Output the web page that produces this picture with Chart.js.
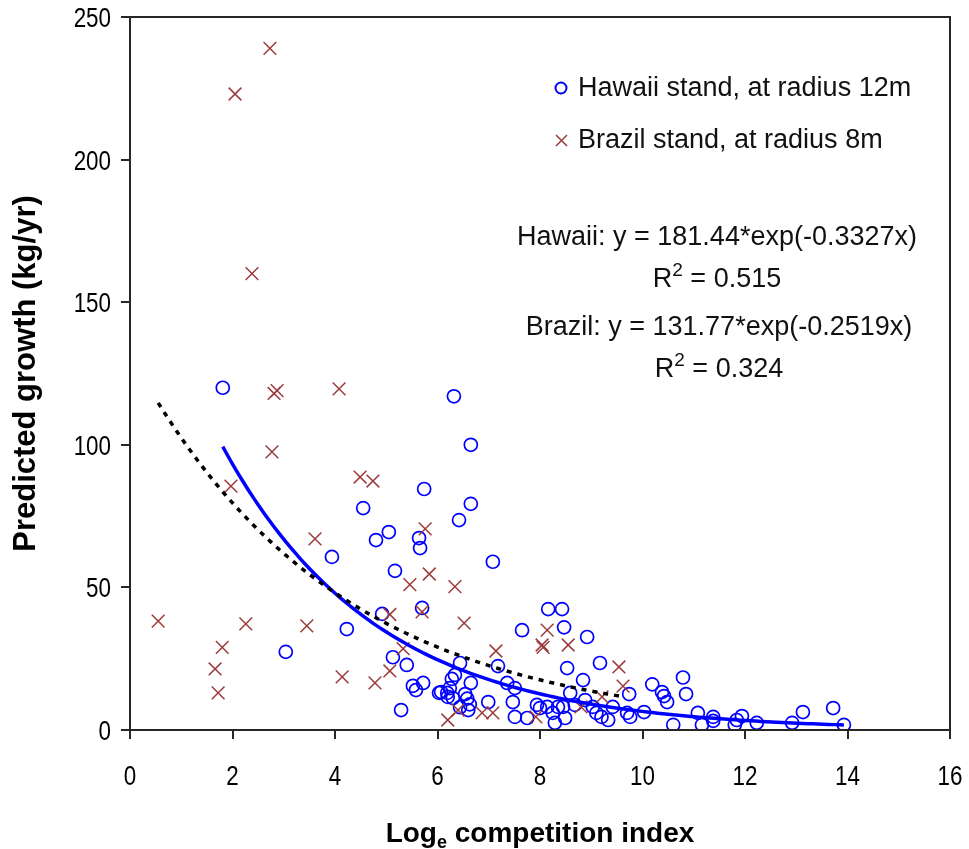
<!DOCTYPE html>
<html>
<head>
<meta charset="utf-8">
<script src="https://cdn.jsdelivr.net/npm/chart.js@4.4.1/dist/chart.umd.min.js"></script>
<style>
  html, body { margin: 0; padding: 0; background: #ffffff; }
  canvas { display: block; }
</style>
</head>
<body>
<canvas id="growth" width="969" height="849"></canvas>
<script>
// Hawaii stand (radius 12 m): log competition index vs predicted growth
const hawaiiX = [1.81, 3.04, 3.94, 4.23, 4.55, 4.80, 4.92, 5.05, 5.13, 5.17, 5.29, 5.40, 5.52, 5.58, 5.64, 5.66, 5.70, 5.72, 5.74,
  6.03, 6.07, 6.19, 6.20, 6.24, 6.28, 6.30, 6.32, 6.34, 6.42, 6.44, 6.44, 6.54, 6.58, 6.60, 6.63, 6.65, 6.65, 6.65, 6.99, 7.08, 7.18,
  7.36, 7.47, 7.51, 7.51, 7.65, 7.75, 7.94, 8.00, 8.14, 8.16, 8.25, 8.29, 8.35, 8.43, 8.45, 8.47, 8.49, 8.53, 8.59, 8.68, 8.84, 8.88,
  8.92, 9.03, 9.10, 9.17, 9.20, 9.33, 9.42, 9.70, 9.74, 9.76, 10.03, 10.19, 10.38, 10.42, 10.48, 10.60, 10.79, 10.85, 11.08, 11.16,
  11.38, 11.38, 11.80, 11.84, 11.94, 12.23, 12.92, 13.13, 13.72, 13.93];
const hawaiiY = [120, 27.4, 60.7, 35.4, 77.8, 66.6, 40.7, 69.4, 25.5, 55.8, 7.0, 22.8, 15.5, 14.0, 67.3, 63.8, 42.8, 16.5, 84.5,
  13.0, 13.3, 13.0, 11.6, 14.7, 17.9, 11.2, 117, 19.3, 73.6, 23.5, 8.0, 12.6, 11.0, 7.0, 9.0, 100, 79.3, 16.5, 9.8, 59.0, 22.4,
  16.5, 9.8, 4.6, 14.7, 35.0, 4.2, 8.8, 7.7, 8.1, 42.4, 6.0, 2.5, 8.1, 42.4, 8.1, 36.0, 4.2, 21.7, 13.0, 8.8, 17.5, 10.5,
  32.6, 8.1, 6.0, 23.5, 4.6, 3.5, 8.1, 6.0, 12.6, 4.6, 6.3, 16.0, 13.3, 11.9, 9.8, 1.8, 18.4, 12.6, 6.0, 1.8,
  4.6, 3.2, 1.8, 3.5, 4.9, 2.5, 2.5, 6.3, 7.7, 1.8];

// Brazil stand (radius 8 m)
const brazilX = [0.55, 1.66, 1.72, 1.80, 1.97, 2.05, 2.26, 2.38, 2.73, 2.77, 2.81, 2.87, 3.45, 3.61, 4.08, 4.14, 4.49, 4.74, 4.78,
  5.07, 5.07, 5.33, 5.46, 5.70, 5.76, 5.84, 6.20, 6.34, 6.40, 6.52, 6.87, 7.08, 7.14, 7.92, 8.04, 8.06, 8.14, 8.55, 8.80, 9.21, 9.54, 9.62];
const brazilY = [38.2, 21.4, 13.0, 29.0, 85.5, 223, 37.2, 160, 239, 97.5, 118, 119, 36.5, 67.0, 119.6, 18.6, 88.7, 87.3, 16.5,
  40.5, 20.7, 28.5, 51.0, 41.4, 70.5, 54.7, 3.5, 50.3, 7.0, 37.5, 6.0, 6.0, 27.7, 4.6, 29.8, 29.0, 35.0, 29.8, 8.1, 11.6, 22.1, 15.4];

// Fitted exponential trends y = a * exp(b * x)
const hawaiiFit = { a: 181.44, b: -0.3327, r2: 0.515 };
const brazilFit = { a: 131.77, b: -0.2519, r2: 0.324 };

const xTickValues = [0, 2, 4, 6, 8, 10, 12, 14, 16];
const yTickValues = [0, 50, 100, 150, 200, 250];

const legendLabels = ['Hawaii stand, at radius 12m', 'Brazil stand, at radius 8m'];
const xTitle = { main: 'Log', sub: 'e', rest: ' competition index' };
const yTitle = 'Predicted growth (kg/yr)';

const BLUE = '#0000ff';
const RED = '#9c3b3b';
const AXIS = '#262626';
const TEXT = '#111111';
const SANS = "'Liberation Sans', Arial, sans-serif";

const toPoints = (xs, ys) => xs.map((x, i) => ({ x: x, y: ys[i] }));

// Smooth trend curve across the observed x range of a series
const trendPoints = (xs, fit) => {
  const lo = Math.min(...xs), hi = Math.max(...xs);
  const n = 120, pts = [];
  for (let i = 0; i <= n; i++) {
    const x = lo + (hi - lo) * i / n;
    pts.push({ x: x, y: fit.a * Math.exp(fit.b * x) });
  }
  return pts;
};

// Tick labels (condensed), text, legend, frame and axis titles drawn over the plot
const decorations = {
  id: 'decorations',
  afterDraw(chart) {
    const ctx = chart.ctx;
    const area = chart.chartArea;
    const xs = chart.scales.x, ys = chart.scales.y;
    ctx.save();

    // full frame around the plotting area
    ctx.strokeStyle = AXIS;
    ctx.lineWidth = 2;
    ctx.strokeRect(area.left, area.top, area.right - area.left, area.bottom - area.top);

    // tick labels in a narrow face
    ctx.fillStyle = '#000';
    ctx.font = '28px ' + SANS;
    ctx.textBaseline = 'alphabetic';
    xs.ticks.forEach(t => {
      ctx.save();
      ctx.translate(xs.getPixelForValue(t.value), area.bottom + 55);
      ctx.scale(0.8, 1);
      ctx.textAlign = 'center';
      ctx.fillText(String(t.value), 0, 0);
      ctx.restore();
    });
    ys.ticks.forEach(t => {
      ctx.save();
      ctx.translate(area.left - 19, ys.getPixelForValue(t.value) + 10);
      ctx.scale(0.8, 1);
      ctx.textAlign = 'right';
      ctx.fillText(String(t.value), 0, 0);
      ctx.restore();
    });

    // legend
    ctx.fillStyle = TEXT;
    ctx.font = '27px ' + SANS;
    ctx.textBaseline = 'middle';
    ctx.textAlign = 'left';
    ctx.strokeStyle = BLUE;
    ctx.lineWidth = 2;
    ctx.beginPath();
    ctx.arc(561, 88, 5.5, 0, Math.PI * 2);
    ctx.stroke();
    ctx.fillText(legendLabels[0], 578, 89);
    ctx.strokeStyle = RED;
    ctx.lineWidth = 1.5;
    ctx.beginPath();
    ctx.moveTo(556, 135); ctx.lineTo(567, 146);
    ctx.moveTo(567, 135); ctx.lineTo(556, 146);
    ctx.stroke();
    ctx.fillText(legendLabels[1], 578, 141);

    // centred runs of text with optional superscript pieces
    const drawRuns = (runs, cx, cy) => {
      let total = 0;
      runs.forEach(r => { ctx.font = r.size + 'px ' + SANS; r.w = ctx.measureText(r.t).width; total += r.w; });
      let x = cx - total / 2;
      ctx.textAlign = 'left';
      ctx.textBaseline = 'alphabetic';
      runs.forEach(r => {
        ctx.font = r.size + 'px ' + SANS;
        ctx.fillText(r.t, x, cy + (r.dy || 0));
        x += r.w;
      });
    };
    ctx.fillStyle = TEXT;
    drawRuns([{ t: 'Hawaii: y = ' + hawaiiFit.a.toFixed(2) + '*exp(' + hawaiiFit.b + 'x)', size: 27 }], 717, 245);
    drawRuns([{ t: 'R', size: 27 }, { t: '2', size: 19, dy: -11 }, { t: ' = ' + hawaiiFit.r2.toFixed(3), size: 27 }], 717, 287);
    drawRuns([{ t: 'Brazil: y = ' + brazilFit.a.toFixed(2) + '*exp(' + brazilFit.b + 'x)', size: 27 }], 719, 335);
    drawRuns([{ t: 'R', size: 27 }, { t: '2', size: 19, dy: -11 }, { t: ' = ' + brazilFit.r2.toFixed(3), size: 27 }], 719, 377);

    // x axis title with subscript e
    const cx = (area.left + area.right) / 2;
    ctx.fillStyle = '#000';
    const bold = s => 'bold ' + s + 'px ' + SANS;
    ctx.font = bold(28); const w1 = ctx.measureText(xTitle.main).width;
    ctx.font = bold(18); const w2 = ctx.measureText(xTitle.sub).width;
    ctx.font = bold(28); const w3 = ctx.measureText(xTitle.rest).width;
    const x0 = cx - (w1 + w2 + w3) / 2;
    const base = 842;
    ctx.font = bold(28); ctx.fillText(xTitle.main, x0, base);
    ctx.font = bold(18); ctx.fillText(xTitle.sub, x0 + w1, base + 6);
    ctx.font = bold(28); ctx.fillText(xTitle.rest, x0 + w1 + w2, base);

    // y axis title
    ctx.translate(35, (area.top + area.bottom) / 2);
    ctx.rotate(-Math.PI / 2);
    ctx.textAlign = 'center';
    ctx.font = bold(31);
    ctx.fillText(yTitle, 0, 0);
    ctx.restore();
  }
};

new Chart(document.getElementById('growth'), {
  type: 'scatter',
  data: {
    datasets: [
      {
        label: 'Brazil trend',
        data: trendPoints(brazilX, brazilFit),
        showLine: true,
        borderColor: '#000000',
        borderWidth: 3.5,
        borderDash: [5, 6],
        pointRadius: 0,
        tension: 0,
        order: 0
      },
      {
        label: 'Hawaii trend',
        data: trendPoints(hawaiiX, hawaiiFit),
        showLine: true,
        borderColor: BLUE,
        borderWidth: 3.5,
        pointRadius: 0,
        tension: 0,
        order: 1
      },
      {
        label: legendLabels[1],
        data: toPoints(brazilX, brazilY),
        pointStyle: 'crossRot',
        pointRadius: 9,
        borderColor: RED,
        backgroundColor: RED,
        pointBorderWidth: 1.5,
        order: 2
      },
      {
        label: legendLabels[0],
        data: toPoints(hawaiiX, hawaiiY),
        pointStyle: 'circle',
        pointRadius: 6.5,
        borderColor: BLUE,
        backgroundColor: 'rgba(0,0,0,0)',
        pointBorderWidth: 1.7,
        order: 3
      }
    ]
  },
  options: {
    responsive: false,
    animation: false,
    devicePixelRatio: 1,
    layout: { padding: { top: 17, right: 19, left: 0, bottom: 0 } },
    plugins: { legend: { display: false }, tooltip: { enabled: false } },
    scales: {
      x: {
        type: 'linear',
        min: 0, max: 16,
        afterBuildTicks: s => { s.ticks = xTickValues.map(v => ({ value: v })); },
        afterFit: s => { s.height = 119; },
        ticks: { display: false },
        grid: { drawOnChartArea: false, drawTicks: true, tickLength: 9, color: AXIS, lineWidth: 2 },
        border: { display: true, color: AXIS, width: 2 }
      },
      y: {
        type: 'linear',
        min: 0, max: 250,
        afterBuildTicks: s => { s.ticks = yTickValues.map(v => ({ value: v })); },
        afterFit: s => { s.width = 130; },
        ticks: { display: false },
        grid: { drawOnChartArea: false, drawTicks: true, tickLength: 9, color: AXIS, lineWidth: 2 },
        border: { display: true, color: AXIS, width: 2 }
      }
    }
  },
  plugins: [decorations]
});
</script>
</body>
</html>
